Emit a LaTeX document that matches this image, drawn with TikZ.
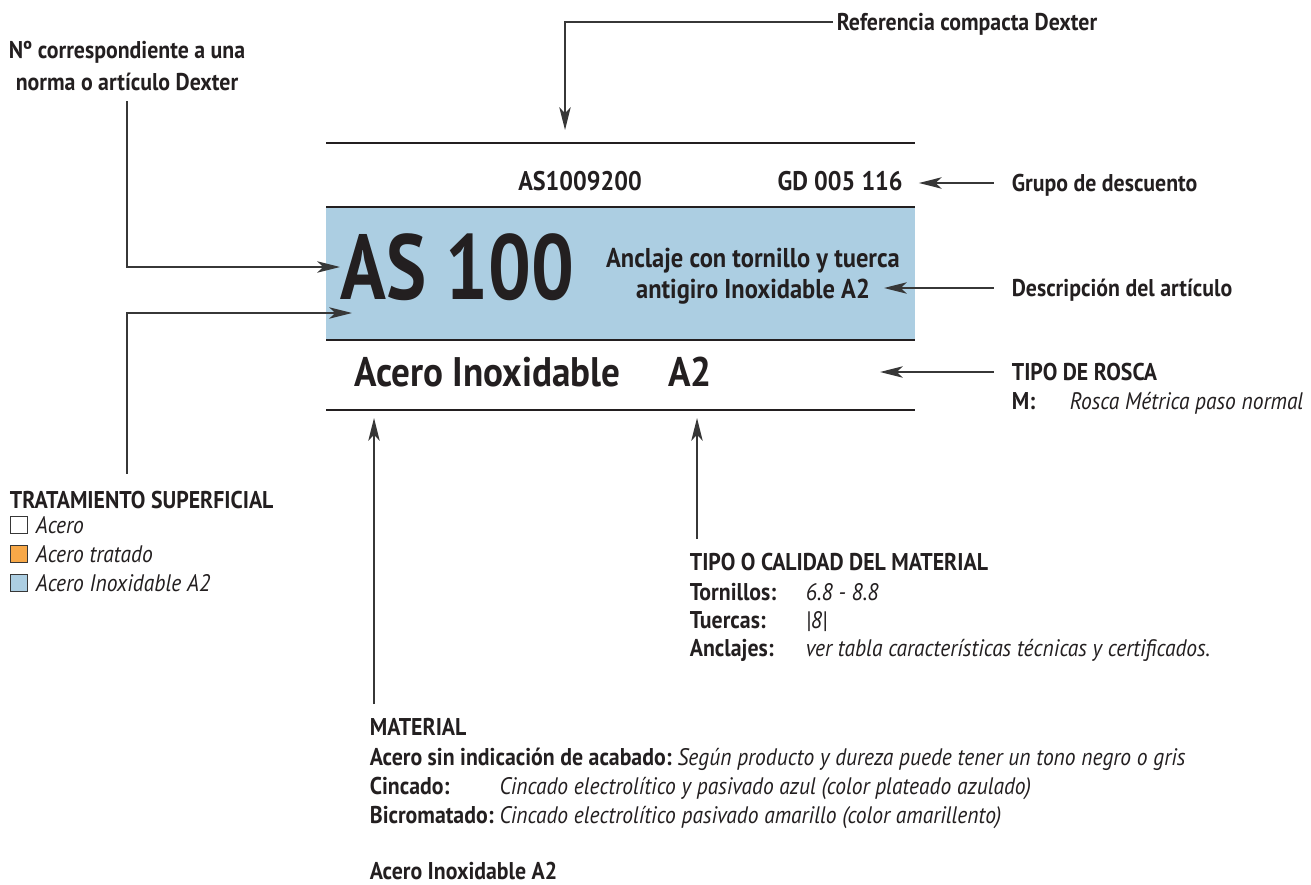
\documentclass[tikz,border=0pt]{standalone}
\usepackage{fontspec}
\setmainfont[FakeStretch=0.9]{PT Sans}
\newfontfamily\bigfont[FakeStretch=0.82]{PT Sans}
\usetikzlibrary{arrows.meta,positioning}

\definecolor{ink}{RGB}{35,31,32}
\definecolor{leader}{RGB}{55,55,55}
\definecolor{inoxblue}{RGB}{172,206,226}
\definecolor{tratorange}{RGB}{247,168,72}

\newcommand{\lblfont}{\fontsize{13.8}{18}\selectfont\bfseries}
\newcommand{\valfont}{\fontsize{13.6}{18}\selectfont\itshape}

\tikzset{
  lbl/.style={font=\lblfont, text=ink, inner sep=2pt, anchor=west, text height=9.7pt, text depth=0pt},
  val/.style={font=\valfont, text=ink, inner sep=2pt, anchor=west, text height=9.5pt, text depth=0pt},
  leaderarrow/.style={draw=leader, line width=0.85pt, -{Stealth[length=13pt,width=6.5pt,inset=3.5pt]}},
  rule/.style={draw=ink, line width=1.1pt},
  swatch/.style={draw=leader, line width=0.5pt, minimum size=0.34cm, inner sep=0pt}
}

\begin{document}
\begin{tikzpicture}[x=0.02cm,y=-0.02cm]
\useasboundingbox (0,0) rectangle (1311,885);

% etiqueta
\fill[inoxblue] (326,207) rectangle (915,340);
\draw[rule] (326,143) -- (915,143);
\draw[rule] (326,207) -- (915,207);
\draw[rule] (326,340) -- (915,340);
\draw[rule] (326,410) -- (915,410);

\node[lbl, font=\fontsize{15.3}{16}\selectfont\bfseries, text height=10.7pt, anchor=center] (refcode) at (580,181) {AS1009200};
\node[lbl, font=\fontsize{15.3}{16}\selectfont\bfseries, text height=10.7pt, anchor=east, inner sep=0pt] (gd) at (903,181) {GD 005 116};
\node[lbl, font=\bigfont\fontsize{52.5}{54}\selectfont\bfseries, text height=36.5pt, inner sep=0pt] (as) at (340,267) {AS 100};
\node[font=\fontsize{15.5}{17.6}\selectfont\bfseries, text=ink, align=center] (desc) at (753,276) {Anclaje con tornillo y tuerca\\antigiro Inoxidable A2};
\node[lbl, font=\fontsize{23.5}{24}\selectfont\bfseries, text height=16.4pt, inner sep=0pt] (mat) at (354,372) {Acero Inoxidable};
\node[lbl, font=\fontsize{23.5}{24}\selectfont\bfseries, text height=16.4pt, inner sep=0pt] (grado) at (668,372) {A2};

% llamadas
\node[lbl] (refc) at (833,22) {Referencia compacta Dexter};
\node[lbl, anchor=center] (norma1) at (127,50) {Nº correspondiente a una};
\node[lbl, anchor=center] (norma2) at (127,82) {norma o artículo Dexter};
\node[lbl] (grupo) at (1008,183) {Grupo de descuento};
\node[lbl] (descr) at (1008,288) {Descripción del artículo};
\node[lbl] (rosca) at (1008,372) {TIPO DE ROSCA};
\node[lbl] (roscam) at (1008,401) {M:};
\node[val] at (1066,401) {Rosca Métrica paso normal};

\coordinate (refpt) at (565,130);
\coordinate (tratpt) at (352,313);
\coordinate (desctip) at (884,288);
\coordinate (roscatip) at (880,372);
\coordinate (mattip) at (374,418);
\coordinate (caltip) at (697,418);

% tratamiento
\node[lbl] (trat) at (6,500) {TRATAMIENTO SUPERFICIAL};
\foreach \y/\c/\t [count=\i] in {525/white/Acero, 554/tratorange/Acero tratado, 583/inoxblue/Acero Inoxidable A2}{
  \node[swatch, fill=\c] (sw\i) at (19,\y) {};
  \node[val] at (32,\y) {\t};
}

% calidad
\node[lbl] (cal) at (686,562) {TIPO O CALIDAD DEL MATERIAL};
\node[lbl] (torn) at (686,592) {Tornillos:};
\node[val] at (802,592) {6.8 - 8.8};
\node[lbl] (tuer) at (686,620) {Tuercas:};
\node[val] at (802,620) {|8|};
\node[lbl] (ancl) at (686,648) {Anclajes:};
\node[val] at (802,648) {ver tabla características técnicas y certificados.};

% material
\node[lbl] (matl) at (366,727) {MATERIAL};
\node[lbl] (sinac) at (366,757) {Acero sin indicación de acabado:};
\node[val, right=-1pt of sinac] {Según producto y dureza puede tener un tono negro o gris};
\node[lbl] (bicr) at (366,815) {Bicromatado:};
\node[val, right=-1pt of bicr] (bicrval) {Cincado electrolítico pasivado amarillo (color amarillento)};
\node[lbl] (cinc) at (366,786) {Cincado:};
\node[val] at (cinc -| bicrval.west) {Cincado electrolítico y pasivado azul (color plateado azulado)};
\node[lbl] (inox) at (366,871) {Acero Inoxidable A2};

% flechas
\draw[leaderarrow] (refc.west) -| (refpt);
\draw[leaderarrow, shorten <=4pt] (norma2.south) |- (as.west);
\draw[leaderarrow, shorten <=8pt] (trat.north -| norma2.south) |- (tratpt);
\draw[leaderarrow, shorten <=8pt, shorten >=9pt] (grupo.west) -- (gd.east |- grupo.west);
\draw[leaderarrow, shorten <=8pt] (descr.west) -- (desctip);
\draw[leaderarrow, shorten <=8pt] (rosca.west) -- (roscatip);
\draw[leaderarrow, shorten <=6pt] (matl.north -| mattip) -- (mattip);
\draw[leaderarrow, shorten <=6pt] (cal.north -| caltip) -- (caltip);
\end{tikzpicture}
\end{document}
